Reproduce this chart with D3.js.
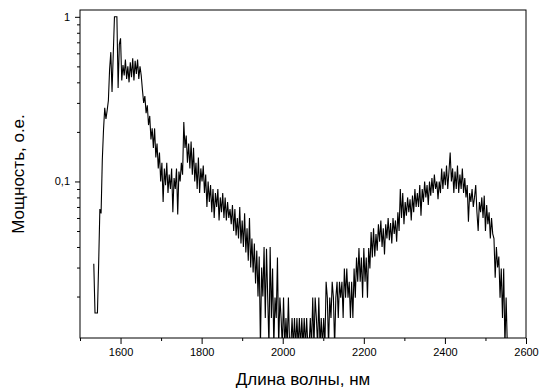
<!DOCTYPE html>
<html>
<head>
<meta charset="utf-8">
<script src="https://cdn.jsdelivr.net/npm/d3@7"></script>
<style>
  html, body { margin: 0; padding: 0; background: #fff; }
  svg { display: block; font-family: Arial, "Liberation Sans", sans-serif; }
</style>
</head>
<body>
<svg id="chart" width="541" height="389"></svg>
<script>
// ---- data ----
const wavelengthStart = 1534;   // nm
const wavelengthStep = 3;       // nm
const power = [
  0.0316, 0.0159, 0.0159, 0.0159, 0.0316, 0.068, 0.064, 0.135, 0.206, 0.28,
  0.24, 0.27, 0.31, 0.48, 0.61, 0.35, 0.59, 1.0, 1.0, 1.0,
  0.37, 0.68, 0.74, 0.41, 0.51, 0.44, 0.55, 0.42, 0.50, 0.40,
  0.53, 0.43, 0.56, 0.41, 0.54, 0.45, 0.55, 0.42, 0.50, 0.44,
  0.36, 0.30, 0.33, 0.26, 0.29, 0.22, 0.25, 0.18, 0.21, 0.16,
  0.21, 0.14, 0.17, 0.12, 0.15, 0.10, 0.13, 0.075, 0.12, 0.095,
  0.13, 0.085, 0.11, 0.09, 0.12, 0.065, 0.105, 0.09, 0.12, 0.063,
  0.115, 0.10, 0.13, 0.11, 0.23, 0.16, 0.19, 0.13, 0.17, 0.12,
  0.175, 0.11, 0.16, 0.10, 0.13, 0.09, 0.14, 0.085, 0.12, 0.10,
  0.125, 0.085, 0.11, 0.07, 0.10, 0.075, 0.095, 0.065, 0.09, 0.06,
  0.085, 0.07, 0.09, 0.058, 0.08, 0.065, 0.085, 0.06, 0.08, 0.058,
  0.075, 0.06, 0.068, 0.055, 0.072, 0.05, 0.068, 0.047, 0.06, 0.045,
  0.07, 0.042, 0.058, 0.04, 0.064, 0.037, 0.052, 0.033, 0.06, 0.03,
  0.045, 0.028, 0.042, 0.024, 0.038, 0.02, 0.035, 0.0099, 0.03, 0.02,
  0.04, 0.0148, 0.039, 0.0197, 0.0099, 0.04, 0.0148, 0.0296, 0.0099, 0.0197,
  0.0148, 0.0345, 0.0099, 0.0197, 0.0148, 0.0099, 0.0197, 0.0099, 0.0148, 0.0099,
  0.0197, 0.0099, 0.0099, 0.0148, 0.0099, 0.0148, 0.0099, 0.0148, 0.0099, 0.0148,
  0.0099, 0.0148, 0.0099, 0.0148, 0.0099, 0.0148, 0.0099, 0.0099, 0.0148, 0.0099,
  0.0197, 0.0099, 0.0197, 0.0148, 0.0099, 0.0197, 0.0099, 0.0148, 0.0099, 0.0148,
  0.0099, 0.0246, 0.0197, 0.0099, 0.0197, 0.0148, 0.0246, 0.0197, 0.0099, 0.0197,
  0.0246, 0.0148, 0.0246, 0.0197, 0.0246, 0.0148, 0.0296, 0.0197, 0.0296, 0.0197,
  0.0246, 0.0148, 0.0246, 0.0148, 0.0296, 0.0197, 0.0345, 0.0246, 0.0394, 0.0246,
  0.0345, 0.0197, 0.0394, 0.0246, 0.0345, 0.0197, 0.0394, 0.0296, 0.0493, 0.0345,
  0.052, 0.035, 0.048, 0.038, 0.055, 0.043, 0.058, 0.04, 0.052, 0.036,
  0.055, 0.045, 0.06, 0.044, 0.056, 0.042, 0.06, 0.048, 0.058, 0.043,
  0.065, 0.05, 0.09, 0.06, 0.085, 0.055, 0.075, 0.062, 0.08, 0.065,
  0.078, 0.058, 0.082, 0.065, 0.09, 0.07, 0.085, 0.07, 0.095, 0.062,
  0.09, 0.075, 0.10, 0.08, 0.095, 0.072, 0.10, 0.082, 0.105, 0.085,
  0.11, 0.09, 0.10, 0.078, 0.10, 0.085, 0.12, 0.09, 0.115, 0.095,
  0.125, 0.09, 0.115, 0.15, 0.10, 0.12, 0.085, 0.115, 0.09, 0.125,
  0.085, 0.11, 0.09, 0.12, 0.085, 0.105, 0.08, 0.095, 0.057, 0.085,
  0.075, 0.09, 0.07, 0.08, 0.095, 0.065, 0.05, 0.075, 0.065, 0.08,
  0.06, 0.082, 0.05, 0.072, 0.055, 0.065, 0.045, 0.06, 0.048, 0.045,
  0.026, 0.04, 0.03, 0.035, 0.0197, 0.0296, 0.0148, 0.0296, 0.0099, 0.0197,
  0.0099, 0.0099
];
const wavelengths = power.map((_, i) => wavelengthStart + i * wavelengthStep);

const xDomain = [1500, 2600];
const yDomain = [0.0112, 1.1];
const xMajorTicks = [1600, 1800, 2000, 2200, 2400, 2600];
const xMinorTicks = [1500, 1700, 1900, 2100, 2300, 2500];
const yMajorTicks = [0.1, 1];
const yMajorLabels = ["0,1", "1"];
const yMinorTicks = [0.02, 0.03, 0.04, 0.05, 0.06, 0.07, 0.08, 0.09,
                     0.2, 0.3, 0.4, 0.5, 0.6, 0.7, 0.8, 0.9];
const xTitle = "Длина волны, нм";
const yTitle = "Мощность, о.е.";

// ---- layout ----
const svg = d3.select("#chart");
const m = { left: 80, right: 526, top: 10, bottom: 338 };

const x = d3.scaleLinear().domain(xDomain).range([m.left, m.right]);
const y = d3.scaleLog().domain(yDomain).range([m.bottom, m.top]);

svg.append("defs").append("clipPath").attr("id", "plotclip")
  .append("rect")
  .attr("x", m.left).attr("y", m.top)
  .attr("width", m.right - m.left).attr("height", m.bottom - m.top);

// spectrum line
const line = d3.line()
  .x((d, i) => x(wavelengths[i]))
  .y(d => y(d));

svg.append("path")
  .datum(power)
  .attr("clip-path", "url(#plotclip)")
  .attr("fill", "none")
  .attr("stroke", "#000")
  .attr("stroke-width", 1.1)
  .attr("stroke-linejoin", "miter")
  .attr("d", line);

// frame
svg.append("rect")
  .attr("x", m.left).attr("y", m.top)
  .attr("width", m.right - m.left).attr("height", m.bottom - m.top)
  .attr("fill", "none").attr("stroke", "#000").attr("stroke-width", 1);

// x axis
const gxMaj = svg.append("g").attr("transform", `translate(0,${m.bottom})`)
  .call(d3.axisBottom(x).tickValues(xMajorTicks).tickSize(6).tickPadding(4)
        .tickFormat(d3.format("d")));
const gxMin = svg.append("g").attr("transform", `translate(0,${m.bottom})`)
  .call(d3.axisBottom(x).tickValues(xMinorTicks).tickSize(3).tickFormat(""));

// y axis
const gyMaj = svg.append("g").attr("transform", `translate(${m.left},0)`)
  .call(d3.axisLeft(y).tickValues(yMajorTicks).tickSize(5).tickPadding(5)
        .tickFormat((d, i) => yMajorLabels[i]));
const gyMin = svg.append("g").attr("transform", `translate(${m.left},0)`)
  .call(d3.axisLeft(y).tickValues(yMinorTicks).tickSize(3).tickFormat(""));

[gxMaj, gxMin, gyMaj, gyMin].forEach(g => {
  g.select(".domain").remove();
  g.selectAll(".tick line").attr("stroke", "#000");
  g.selectAll("text").attr("fill", "#000")
    .style("font-family", "Arial, 'Liberation Sans', sans-serif")
    .style("font-size", "11px");
});

// titles
svg.append("text")
  .attr("x", (m.left + m.right) / 2)
  .attr("y", 385)
  .attr("text-anchor", "middle")
  .style("font-size", "17px")
  .attr("fill", "#000")
  .text(xTitle);

svg.append("text")
  .attr("transform", `translate(24,${(m.top + m.bottom) / 2}) rotate(-90)`)
  .attr("text-anchor", "middle")
  .style("font-size", "17px")
  .attr("fill", "#000")
  .text(yTitle);
</script>
</body>
</html>
